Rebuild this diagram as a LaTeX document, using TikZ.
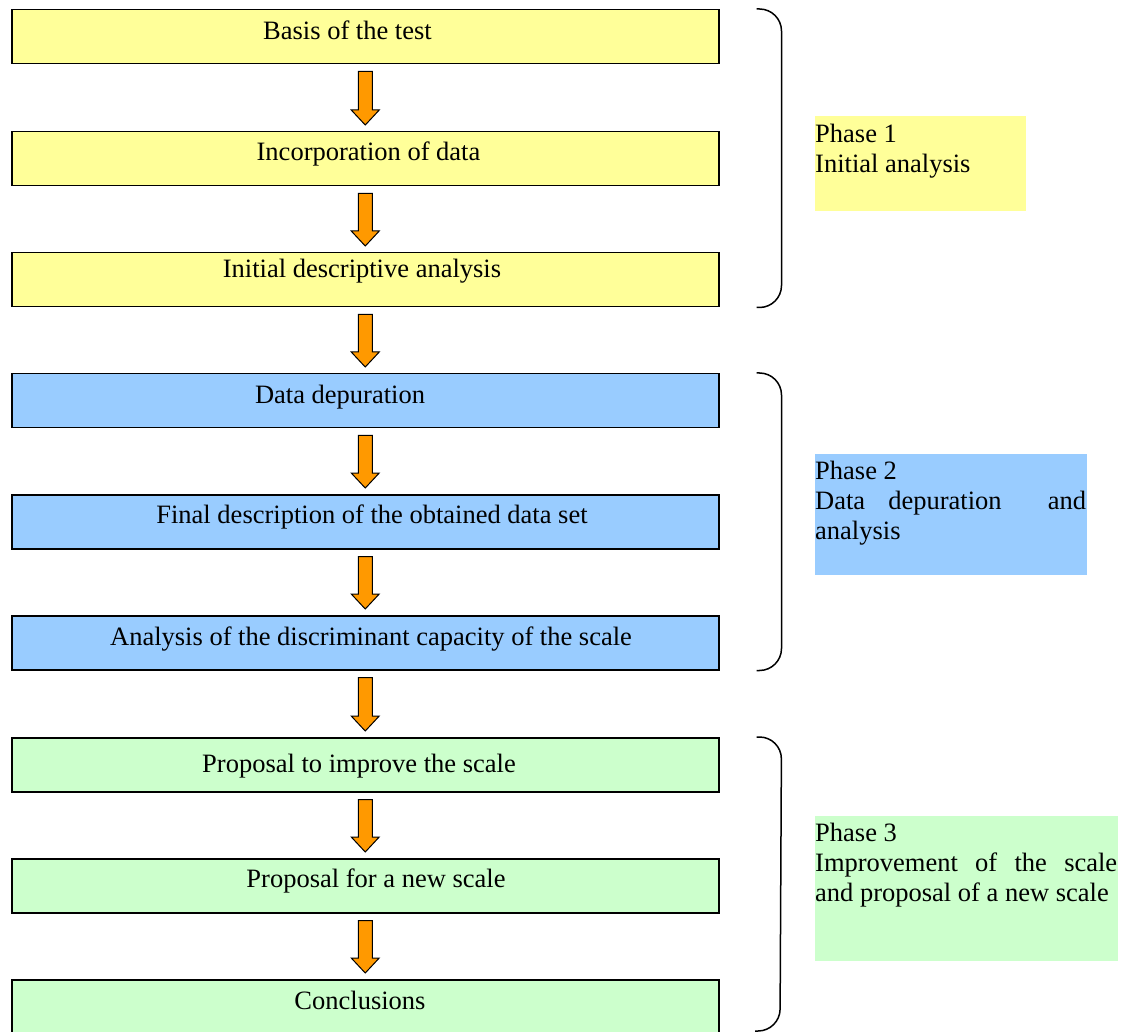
\documentclass[tikz,border=0pt]{standalone}
\usepackage{fontspec}
\setmainfont{Liberation Serif}
\usetikzlibrary{calc}
\definecolor{yel}{HTML}{FFFF99}
\definecolor{blu}{HTML}{99CCFF}
\definecolor{grn}{HTML}{CCFFCC}
\definecolor{org}{HTML}{FF9900}
\tikzset{
  stepbox/.style={draw=black, line width=1.5pt, rectangle, minimum width=707pt, minimum height=54pt, anchor=north west, inner sep=0pt},
  lbl/.style={anchor=base, inner sep=0pt, font=\fontsize{26.5}{30}\selectfont},
  phasebox/.style={rectangle, anchor=north west, inner sep=0pt},
  ptext/.style={anchor=north west, inner sep=0pt, align=left, font=\fontsize{26.5}{30}\selectfont},
  fatarrow/.style={draw=black, line width=1pt, fill=org, line join=miter},
  bracket/.style={draw=black, line width=1.5pt, rounded corners=22pt}
}
\newcommand{\fatarr}[2]{%
  \draw[fatarrow] let \p1=(#1.south), \p2=(#2.north) in
    (\x1-7pt,\y1-7pt) -- (\x1-7pt,\y2+21pt) -- (\x1-14pt,\y2+21pt) -- (\x1,\y2+6pt)
    -- (\x1+14pt,\y2+21pt) -- (\x1+7pt,\y2+21pt) -- (\x1+7pt,\y1-7pt) -- cycle;}
\begin{document}
\begin{tikzpicture}[x=1pt,y=-1pt]
\useasboundingbox[fill=white] (0,0) rectangle (1128,1032);
% boxes
\node[stepbox, fill=yel] (b1) at (11,9) {};
\node[stepbox, fill=yel] (b2) at (11,131) {};
\node[stepbox, fill=yel] (b3) at (11,252) {};
\node[stepbox, fill=blu] (b4) at (11,373) {};
\node[stepbox, fill=blu] (b5) at (11,494) {};
\node[stepbox, fill=blu] (b6) at (11,615) {};
\node[stepbox, fill=grn] (b7) at (11,737) {};
\node[stepbox, fill=grn] (b8) at (11,858) {};
\node[stepbox, fill=grn, minimum height=62pt] (b9) at (11,979) {};
% labels
\node[lbl] (t1) at (347.5,40) {Basis of the test};
\node[lbl] (t2) at (368.5,161) {Incorporation of data};
\node[lbl] (t3) at (362,278) {Initial descriptive analysis};
\node[lbl] (t4) at (340,403) {Data depuration};
\node[lbl] (t5) at (372,523) {Final description of the obtained data set};
\node[lbl] (t6) at (371,645) {Analysis of the discriminant capacity of the scale};
\node[lbl] (t7) at (359,772) {Proposal to improve the scale};
\node[lbl] (t8) at (376,887) {Proposal for a new scale};
\node[lbl] (t9) at (360,1009) {Conclusions};
% arrows
\fatarr{b1}{b2}
\fatarr{b2}{b3}
\fatarr{b3}{b4}
\fatarr{b4}{b5}
\fatarr{b5}{b6}
\fatarr{b6}{b7}
\fatarr{b7}{b8}
\fatarr{b8}{b9}
% brackets
\draw[bracket] ($(b1.north east)+(37,0)$) -- ($(b1.north east)+(62,0)$) -- ($(b3.south east)+(62,0)$) -- ($(b3.south east)+(37,0)$);
\draw[bracket] ($(b4.north east)+(37,0)$) -- ($(b4.north east)+(62,0)$) -- ($(b6.south east)+(62,0)$) -- ($(b6.south east)+(37,0)$);
\coordinate (e3) at (780,1031);
\coordinate (e3l) at (755,1031);
\draw[bracket] ($(b7.north east)+(37,0)$) -- ($(b7.north east)+(62,0)$) -- (e3) -- (e3l);
% phase boxes
\node[phasebox, fill=yel, minimum width=211pt, minimum height=95pt] (p1) at (815,116) {};
\node[ptext] (p1t) at (815,124) {Phase 1\\Initial analysis};
\node[phasebox, fill=blu, minimum width=272pt, minimum height=121pt] (p2) at (815,454) {};
\node[ptext] (p2t) at (815,461) {Phase 2\\\makebox[271pt][l]{Data\hfill depuration\hfill\hfill and}\\analysis};
\node[phasebox, fill=grn, minimum width=303pt, minimum height=145pt] (p3) at (815,816) {};
\node[ptext] (p3t) at (815,823) {Phase 3\\\makebox[302pt][l]{Improvement\hfill of\hfill the\hfill scale}\\and proposal of a new scale};
\end{tikzpicture}
\end{document}
